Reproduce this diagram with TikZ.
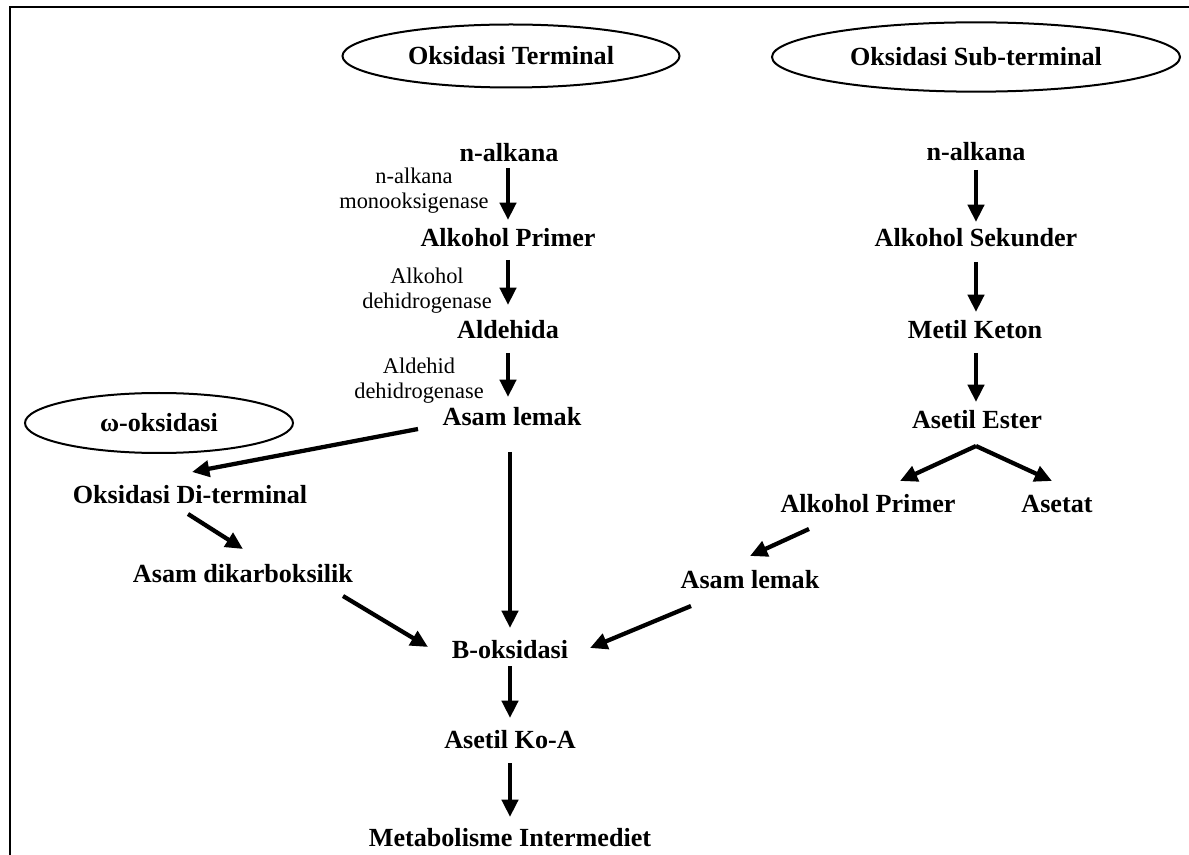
\documentclass[tikz,border=0pt]{standalone}
\usepackage{fontspec}
\setmainfont{Liberation Serif}
\usetikzlibrary{arrows.meta,shapes.geometric,calc}
\begin{document}
\begin{tikzpicture}[
  x=0.75pt, y=-0.75pt,
  stage/.style={font=\bfseries\fontsize{19.6}{22}\selectfont, inner sep=0pt,
                text height=13.4pt, text depth=0pt},
  enz/.style={font=\fontsize{16.8}{18.75}\selectfont, align=center, inner sep=0pt},
  oval/.style={ellipse, draw, line width=1.5pt, inner sep=0pt,
               font=\bfseries\fontsize{19.6}{22}\selectfont},
  flow/.style={draw, line width=3.2pt, -{Triangle[length=13pt,width=12pt]}}
]
\useasboundingbox (0,0) rectangle (1189,855);
\clip (0,0) rectangle (1189,855);
% outer frame
\draw[line width=2pt] (10,7) rectangle (1220,890);

% pathway headings
\node[oval, minimum width=252.75pt, minimum height=47.25pt] (hterm) at (511,56) {Oksidasi Terminal};
\node[oval, minimum width=306pt, minimum height=52pt] (hsub) at (976,57) {Oksidasi Sub-terminal};
\node[oval, minimum width=201pt, minimum height=45pt] (homega) at (159,423) {ω-oksidasi};

% terminal oxidation
\node[stage] (tl1) at (509,153) {n-alkana};
\node[stage] (tl2) at (508,238) {Alkohol Primer};
\node[stage] (tl3) at (508,330) {Aldehida};
\node[stage] (tl4) at (512,417) {Asam lemak};
\node[enz] (e1) at (414,191) {n-alkana\\monooksigenase};
\node[enz] (e2) at (427,291) {Alkohol\\dehidrogenase};
\node[enz] (e3) at (419,381) {Aldehid\\dehidrogenase};

% sub-terminal oxidation
\node[stage] (tr1) at (976,152) {n-alkana};
\node[stage] (tr2) at (976,238) {Alkohol Sekunder};
\node[stage] (tr3) at (975,330) {Metil Keton};
\node[stage] (tr4) at (977,420) {Asetil Ester};
\node[stage] (tr5) at (868,504) {Alkohol Primer};
\node[stage] (tr6) at (1057,504) {Asetat};
\node[stage] (tr7) at (750,580) {Asam lemak};

% omega oxidation
\node[stage] (odt) at (190,495) {Oksidasi Di-terminal};
\node[stage] (adk) at (243,574) {Asam dikarboksilik};

% common route
\node[stage] (bok) at (510,650) {B-oksidasi};
\node[stage] (ako) at (510,740) {Asetil Ko-A};
\node[stage] (mi) at (510,838) {Metabolisme Intermediet};

% terminal chain
\draw[flow] ($(tl1)+(-1,15)$) -- ($(tl2)+(0,-18)$);
\draw[flow] ($(tl2)+(0,22)$) -- ($(tl3)+(0,-25)$);
\draw[flow] ($(tl3)+(0,23)$) -- ($(tl4)+(-4,-20)$);
\draw[flow] ($(tl4)+(-2,35)$) -- ($(bok)+(0,-22)$);

% sub-terminal chain
\draw[flow] ($(tr1)+(0,18)$) -- ($(tr2)+(0,-16)$);
\draw[flow] ($(tr2)+(0,24)$) -- ($(tr3)+(1,-18)$);
\draw[flow] ($(tr3)+(1,23)$) -- ($(tr4)+(-1,-18)$);
\coordinate (fork) at ($(tr4)+(-1,26)$);
\draw[flow] (fork) -- ($(tr5)+(32,-23)$);
\draw[flow] (fork) -- ($(tr6)+(-5,-23)$);
\draw[flow] ($(tr5)+(-59,25)$) -- ($(tr7)+(0,-24)$);
\draw[flow] ($(tr7)+(-59,26)$) -- ($(bok)+(80,-2)$);

% omega branch
\draw[flow] ($(tl4)+(-94,12)$) -- ($(odt)+(2,-23)$);
\draw[flow] ($(odt)+(-2,19)$) -- ($(adk)+(0,-25)$);
\draw[flow] ($(adk)+(100,22)$) -- ($(bok)+(-82,-3)$);

% to central metabolism
\draw[flow] ($(bok)+(0,16)$) -- ($(ako)+(0,-22)$);
\draw[flow] ($(ako)+(0,23)$) -- ($(mi)+(0,-21)$);
\end{tikzpicture}
\end{document}
